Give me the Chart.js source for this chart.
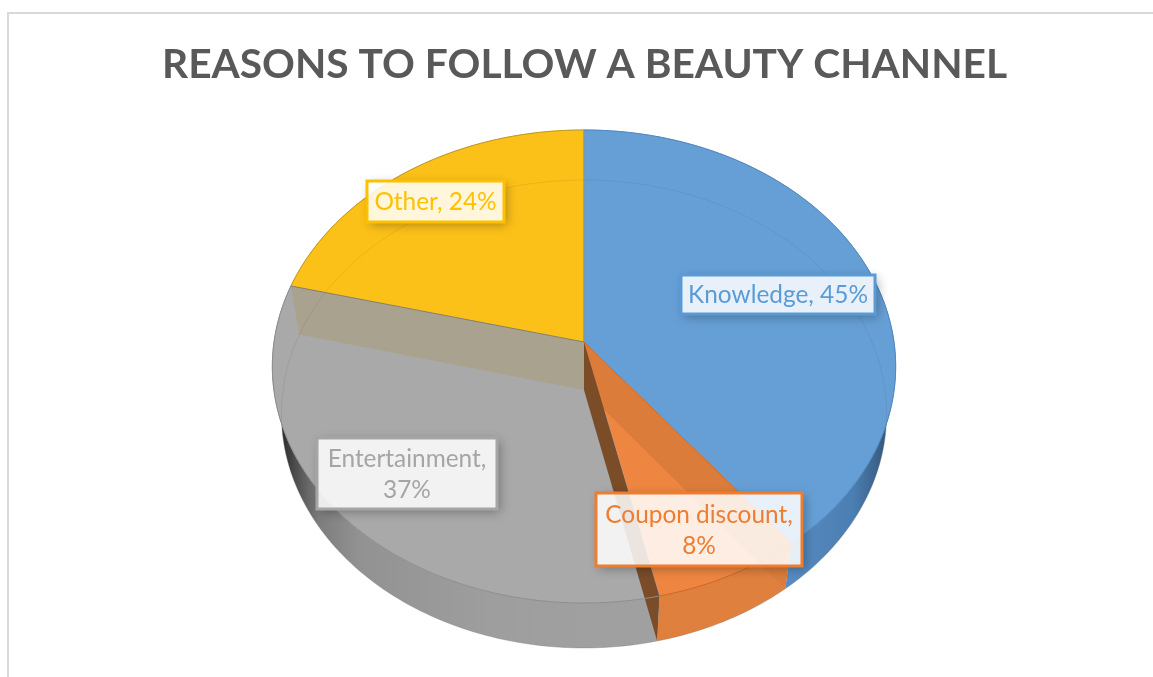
<!DOCTYPE html>
<html>
<head>
<meta charset="utf-8">
<title>Reasons to follow a beauty channel</title>
<script src="https://cdn.jsdelivr.net/npm/chart.js@4"></script>
<style>
  html, body { margin: 0; padding: 0; background: #ffffff; overflow: hidden; }
  #wrap { position: relative; width: 1153px; height: 677px; }
  #frame { position: absolute; left: 7px; top: 12px; right: 0; bottom: 0; border-left: 2px solid #d9d9d9; border-top: 2px solid #d9d9d9; }
  canvas { position: absolute; left: 0; top: 0; }
</style>
</head>
<body>
<div id="wrap">
  <div id="frame"></div>
  <canvas id="pieChart" width="1153" height="677"></canvas>
</div>
<script>
const categories = ["Knowledge", "Coupon discount", "Entertainment", "Other"];
const shares = [45, 8, 37, 24];

const sliceColors = ["#669fd6", "#ee8641", "#a9a9a9", "#fcc118"];
const labelColors = ["#5b9bd5", "#ed7d31", "#a5a5a5", "#ffc000"];
const rimColors = ["#5088bf", "#c8661f", "#8c8c8c", "#bb982c"];

// side wall shading, left to right along x
const wallStops = [
  [[0.78, "#5d92c9"], [0.93, "#4b7fb3"], [0.985, "#35587c"], [1, "#2b3f55"]],
  [[0, "#dc7d3c"], [1, "#e08140"]],
  [[0.01, "#222222"], [0.035, "#4a4a4a"], [0.075, "#7d7d7d"], [0.14, "#929292"], [0.35, "#9e9e9e"], [1, "#a4a4a4"]],
  [[0, "#c79a16"], [1, "#c79a16"]]
];

// label box per slice: left, top, right, bottom, and whether the value wraps
const labelBoxes = [
  [681, 275, 875, 314, false],
  [596, 493, 802, 566, true],
  [317, 438, 497, 509, true],
  [367, 181, 504, 222, false]
];

// top and bottom discs of the pie, with their perspective foreshortening
const topFace = { cx: 584, cy: 342, rx: 310, ry: 234, k: 0.1036 };
const bottomFace = { cx: 584, cy: 390, rx: 301, ry: 231.5, k: 0.1026 };

function project(face, u, v) {
  const w = 1 - face.k * v;
  return [face.cx + face.rx * u / w, face.cy + face.ry * v / w];
}

function rimPoint(face, angle) {
  return project(face, Math.cos(angle), Math.sin(angle));
}

function rimPath(face, start, end) {
  const pts = [];
  const steps = Math.max(8, Math.ceil((end - start) / 0.02));
  for (let i = 0; i <= steps; i++) {
    pts.push(rimPoint(face, start + (end - start) * i / steps));
  }
  return pts;
}

function tracePoly(ctx, pts) {
  ctx.beginPath();
  pts.forEach((p, i) => (i ? ctx.lineTo(p[0], p[1]) : ctx.moveTo(p[0], p[1])));
}

function fillPoly(ctx, pts, color) {
  tracePoly(ctx, pts);
  ctx.closePath();
  ctx.fillStyle = color;
  ctx.fill();
}

function strokePoly(ctx, pts, color, width) {
  tracePoly(ctx, pts);
  ctx.strokeStyle = color;
  ctx.lineWidth = width;
  ctx.stroke();
}

// radial wall between two slices, seen through the top surface
function radialWall(ctx, angle, color) {
  fillPoly(ctx, [
    project(topFace, 0, 0),
    project(bottomFace, 0, 0),
    rimPoint(bottomFace, angle),
    rimPoint(topFace, angle)
  ], color);
}

const pie3d = {
  id: "pie3d",
  beforeDatasetsDraw(chart) {
    const ctx = chart.ctx;
    const arcs = chart.getDatasetMeta(0).data;
    const colors = chart.data.datasets[0].backgroundColor;

    ctx.save();
    ctx.lineJoin = "round";

    arcs.forEach((arc, i) => {
      const grad = ctx.createLinearGradient(272, 0, 896, 0);
      wallStops[i].forEach(s => grad.addColorStop(s[0], s[1]));
      const top = rimPath(topFace, arc.startAngle, arc.endAngle);
      const bottom = rimPath(bottomFace, arc.startAngle, arc.endAngle).reverse();
      fillPoly(ctx, top.concat(bottom), grad);
    });

    const bottomRim = rimPath(bottomFace, 0, Math.PI);
    strokePoly(ctx, bottomRim, "rgba(120,120,120,0.35)", 1);

    arcs.forEach((arc, i) => {
      const face = [project(topFace, 0, 0)].concat(rimPath(topFace, arc.startAngle, arc.endAngle));
      fillPoly(ctx, face, colors[i]);
      strokePoly(ctx, face.concat([face[0]]), colors[i], 0.6);
    });

    radialWall(ctx, arcs[0].endAngle, "#dc7c3b");
    radialWall(ctx, arcs[1].endAngle, "#7a4c28");
    radialWall(ctx, arcs[2].endAngle, "#a8a28f");

    // far edge of the bottom disc, faintly visible through the top
    ctx.save();
    tracePoly(ctx, rimPath(topFace, 0, Math.PI * 2));
    ctx.closePath();
    ctx.clip();
    strokePoly(ctx, rimPath(bottomFace, Math.PI * 0.5, Math.PI * 2.5), "rgba(80,70,40,0.1)", 1);
    ctx.restore();

    arcs.forEach((arc, i) => {
      strokePoly(ctx, rimPath(topFace, arc.startAngle, arc.endAngle), rimColors[i], 1);
    });
    strokePoly(ctx, [project(topFace, 0, 0), rimPoint(topFace, arcs[0].startAngle)], "#5b93cc", 1.2);
    strokePoly(ctx, [project(topFace, 0, 0), rimPoint(topFace, arcs[0].endAngle)], "#c96c2b", 1);
    strokePoly(ctx, [project(topFace, 0, 0), rimPoint(topFace, arcs[2].endAngle)], "#85806e", 1);

    ctx.restore();
    return false;
  },
  afterDraw(chart) {
    const ctx = chart.ctx;
    categories.forEach((name, i) => {
      const [l, t, r, b, wrap] = labelBoxes[i];
      const w = r - l;
      const h = b - t;
      const value = chart.data.datasets[0].data[i] + "%";
      const lines = wrap ? [name + ",", value] : [name + ", " + value];

      // soft shadow, kept outside the translucent box
      ctx.save();
      ctx.beginPath();
      ctx.rect(0, 0, chart.width, chart.height);
      ctx.rect(l, t, w, h);
      ctx.clip("evenodd");
      ctx.shadowColor = "rgba(0,0,0,0.3)";
      ctx.shadowBlur = 10;
      ctx.shadowOffsetX = 3;
      ctx.shadowOffsetY = 3;
      ctx.fillStyle = "#ffffff";
      ctx.fillRect(l, t, w, h);
      ctx.restore();

      ctx.fillStyle = "rgba(255,255,255,0.85)";
      ctx.fillRect(l, t, w, h);
      ctx.strokeStyle = labelColors[i];
      ctx.lineWidth = 3;
      ctx.strokeRect(l, t, w, h);

      ctx.fillStyle = labelColors[i];
      ctx.font = "24.4px Lato";
      ctx.textAlign = "center";
      ctx.textBaseline = "middle";
      const lineHeight = 31.5;
      lines.forEach((text, n) => {
        const y = (t + b) / 2 + 1 + (n - (lines.length - 1) / 2) * lineHeight;
        ctx.fillText(text, (l + r) / 2, y);
      });
    });
  }
};

new Chart(document.getElementById("pieChart"), {
  type: "pie",
  data: {
    labels: categories,
    datasets: [{
      data: shares,
      backgroundColor: sliceColors
    }]
  },
  options: {
    responsive: false,
    animation: false,
    layout: { padding: { left: 16 } },
    plugins: {
      legend: { display: false },
      tooltip: { enabled: false },
      title: {
        display: true,
        text: "REASONS TO FOLLOW A BEAUTY CHANNEL",
        color: "#595959",
        font: { family: "Lato", size: 40.7, weight: "bold" },
        padding: { top: 40, bottom: 10 }
      }
    }
  },
  plugins: [pie3d]
});
</script>
</body>
</html>
